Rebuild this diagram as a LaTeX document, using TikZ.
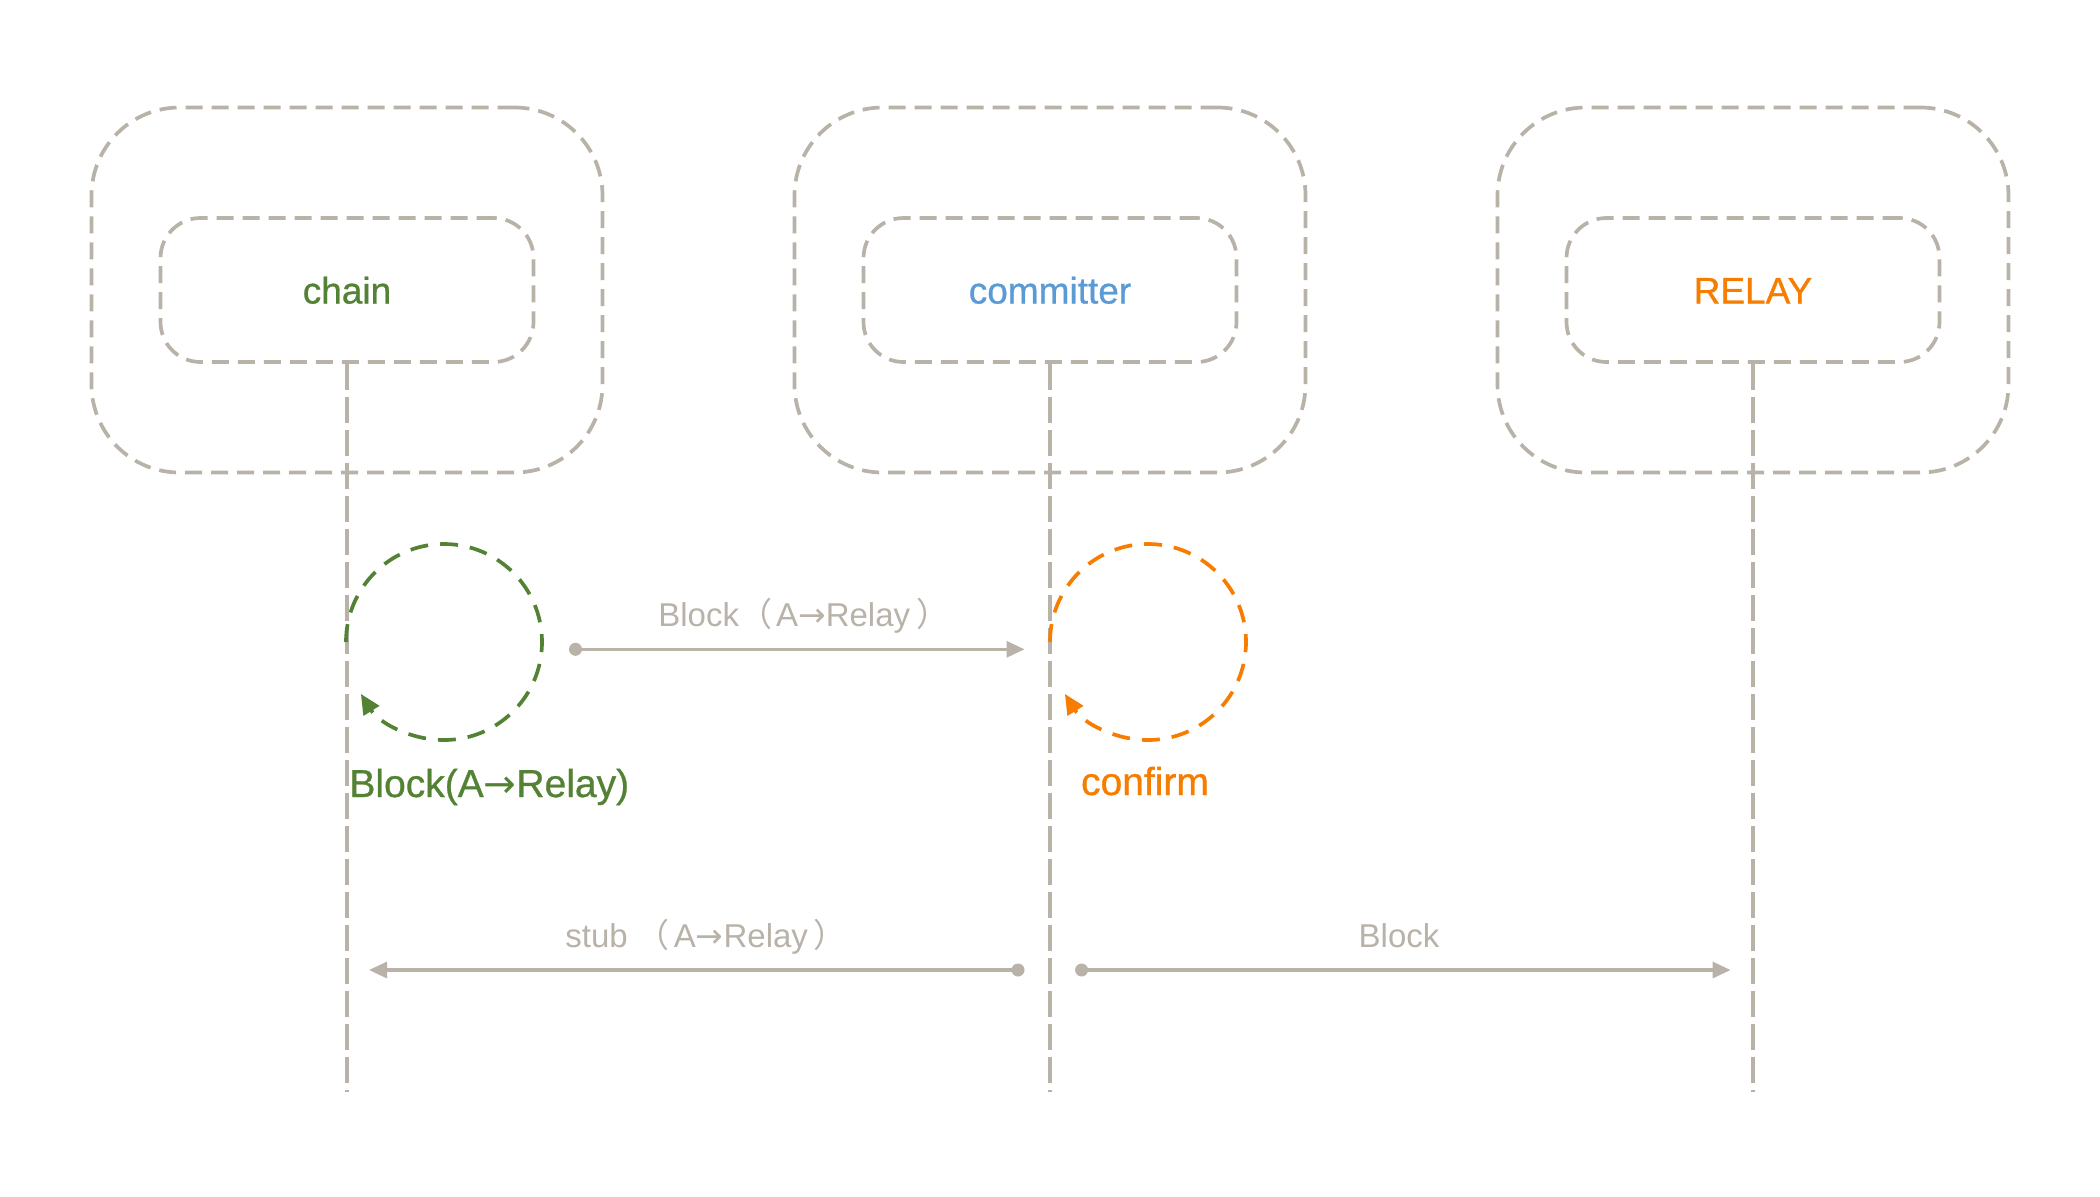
\documentclass[tikz,border=0pt]{standalone}
\usepackage{fontspec}
\setmainfont{Liberation Sans}
\newfontfamily\medfont[FakeBold=0.8]{Liberation Sans}
\newfontfamily\cjk{Noto Sans CJK SC}
\newfontfamily\arrowfont{DejaVu Sans}
\newcommand{\rarr}{{\arrowfont →}}
\newcommand{\lpar}{{\cjk （}\kern2pt}
\newcommand{\rpar}{\kern3pt{\cjk ）}}
\usetikzlibrary{arrows.meta}
\definecolor{lgray}{RGB}{184,178,168}
\definecolor{cgreen}{RGB}{84,130,53}
\definecolor{cblue}{RGB}{91,155,213}
\definecolor{corange}{RGB}{247,125,0}
\begin{document}
\begin{tikzpicture}[x=0.5pt,y=0.5pt,
 outerbox/.style={draw=lgray, line width=1.85pt, dash pattern=on 8.5pt off 4.5pt, rounded corners=44pt, minimum width=255.5pt, minimum height=182.5pt, inner sep=0pt},
 innerbox/.style={draw=lgray, line width=1.85pt, dash pattern=on 8.5pt off 4.5pt, rounded corners=20pt, minimum width=186.5pt, minimum height=72pt, font=\medfont\fontsize{18.5}{22}\selectfont, text height=13.5pt, text depth=0pt, inner sep=0pt},
 lifeline/.style={draw=lgray, line width=1.6pt, dash pattern=on 13pt off 3.5pt},
 loopline/.style={line width=1.85pt, dash pattern=on 9pt off 6pt, -{Triangle[length=10pt,width=9pt]}},
 msg/.style={draw=lgray, line width=1.6pt, -{Triangle[length=9pt,width=8pt]}},
 msgdot/.style={circle, fill=lgray, inner sep=0pt, minimum size=6.5pt},
 msglabel/.style={text=lgray, font=\fontsize{16.5}{20}\selectfont, inner sep=0pt},
 steplabel/.style={font=\medfont\fontsize{19.5}{23}\selectfont, inner sep=0pt}
]
\path[use as bounding box] (0,0) rectangle (2100,-1196);

% participants
\node[outerbox] (o1) at (347,-290) {};
\node[outerbox] (o2) at (1050,-290) {};
\node[outerbox] (o3) at (1753,-290) {};
\node[innerbox, text=cgreen] (i1) at (347,-290) {chain};
\node[innerbox, text=cblue] (i2) at (1050,-290) {committer};
\node[innerbox, text=corange] (i3) at (1753,-290) {RELAY};

% lifelines
\coordinate (e1) at (347,-1092);
\coordinate (e2) at (1050,-1092);
\coordinate (e3) at (1753,-1092);
\draw[lifeline] (i1.south) -- (e1);
\draw[lifeline] (i2.south) -- (e2);
\draw[lifeline] (i3.south) -- (e3);

% self loops
\coordinate (c1) at (444,-642);
\coordinate (c2) at (1148,-642);
\draw[loopline, draw=cgreen, fill=none] (c1) ++(180:98) arc[start angle=180, end angle=-148, radius=98];
\draw[loopline, draw=corange, fill=none] (c2) ++(180:98) arc[start angle=180, end angle=-148, radius=98];
\node[steplabel, text=cgreen, anchor=base west] (s1) at (349,-797) {Block(A\rarr Relay)};
\node[steplabel, text=corange, anchor=base] (s2) at (1145,-795) {confirm};

% messages
\node[msgdot] (d1) at (575.5,-649.3) {};
\coordinate (t1) at (1024.5,-649.3);
\draw[msg] (d1.center) -- (t1);
\node[msglabel, anchor=base west] (l1) at (658,-626.7) {Block\lpar A\rarr Relay\rpar};

\node[msgdot] (d2) at (1018,-970) {};
\coordinate (t2) at (369,-970);
\draw[msg] (d2.center) -- (t2);
\node[msglabel, anchor=base west] (l2) at (565,-947.3) {stub \lpar A\rarr Relay\rpar};

\node[msgdot] (d3) at (1081.6,-970) {};
\coordinate (t3) at (1730.6,-970);
\draw[msg] (d3.center) -- (t3);
\node[msglabel, anchor=base] (l3) at (1399,-947.3) {Block};
\end{tikzpicture}
\end{document}
